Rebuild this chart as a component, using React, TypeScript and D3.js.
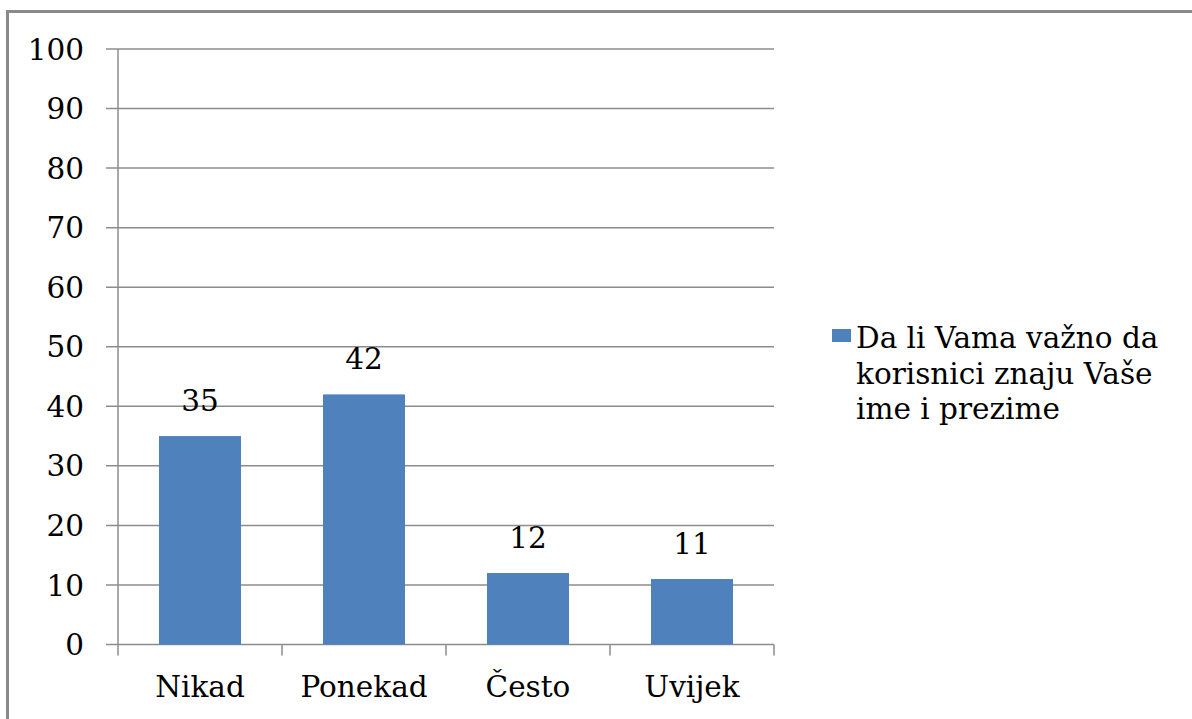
import React from 'react';
import * as d3 from 'd3';

const categories = ['Nikad', 'Ponekad', 'Često', 'Uvijek'];
const values = [35, 42, 12, 11];
const yTicks = [0, 10, 20, 30, 40, 50, 60, 70, 80, 90, 100];
const legendLines = ['Da li Vama važno da', 'korisnici znaju Vaše', 'ime i prezime'];

const W = 1192;
const H = 719;
const font = "'DejaVu Serif', serif";
const grid = '#8c8c8c';
const barColor = '#4f81bd';

const App = () => {
  const left = 118;
  const right = 774;
  const top = 49;
  const bottom = 644.5;

  const x = d3.scaleBand().domain(categories).range([left, right]).paddingInner(0.5).paddingOuter(0.25);
  const y = d3.scaleLinear().domain([0, 100]).range([bottom, top]);
  const step = x.step();
  const txt = { fontFamily: font, fontSize: 29.5 };

  return (
    <svg width={W} height={H} style={{ position: 'absolute', left: 0, top: 0, fontFamily: font }}>
      <rect x={0} y={0} width={W} height={H} fill="#fff" />
      <rect x={7.5} y={11.5} width={W + 20} height={H + 20} fill="none" stroke="#8a8a8a" strokeWidth={3} />

      {/* gridlines + y labels */}
      {yTicks.map((t) => (
        <g key={t}>
          <line x1={left - 12} x2={right} y1={y(t)} y2={y(t)} stroke={grid} strokeWidth={1.5} />
          <text x={84} y={y(t)} dy="0.36em" textAnchor="end" style={txt} fill="#000">
            {t}
          </text>
        </g>
      ))}

      {/* y axis */}
      <line x1={left} x2={left} y1={top} y2={bottom} stroke={grid} strokeWidth={1.5} />

      {/* x ticks at category boundaries */}
      {d3.range(categories.length + 1).map((i) => (
        <line key={i} x1={left + i * step} x2={left + i * step} y1={bottom} y2={bottom + 11} stroke={grid} strokeWidth={1.5} />
      ))}

      {/* bars */}
      {categories.map((c, i) => (
        <g key={c}>
          <rect x={x(c)} y={y(values[i])} width={x.bandwidth()} height={bottom - y(values[i])} fill={barColor} />
          <text x={x(c)! + x.bandwidth() / 2} y={y(values[i]) - 25} textAnchor="middle" style={txt} fill="#000">
            {values[i]}
          </text>
          <text x={x(c)! + x.bandwidth() / 2} y={697} textAnchor="middle" style={txt} fill="#000">
            {c}
          </text>
        </g>
      ))}

      {/* legend */}
      <rect x={832} y={329} width={19} height={13} fill={barColor} />
      {legendLines.map((l, i) => (
        <text key={i} x={856} y={348 + i * 35.5} style={txt} fill="#000">
          {l}
        </text>
      ))}
    </svg>
  );
};

export default App;
